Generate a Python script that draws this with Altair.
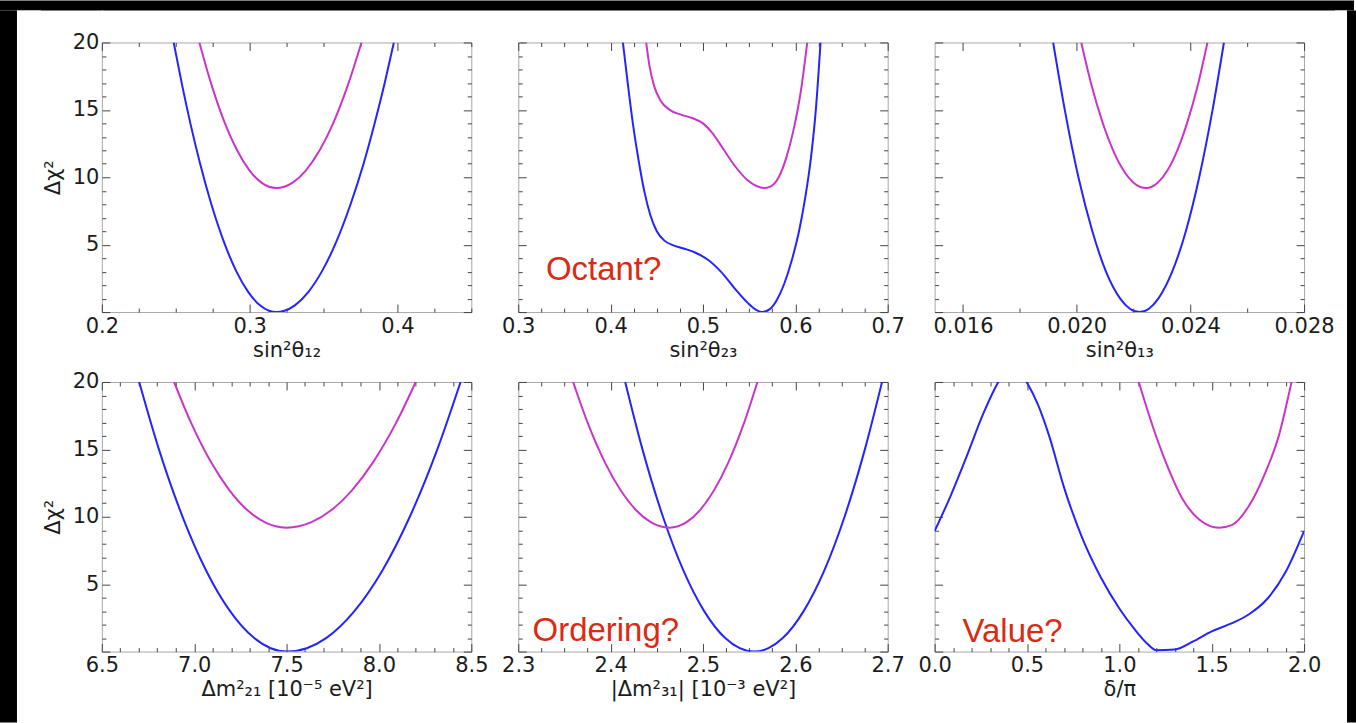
import altair as alt
import pandas as pd

BLUE = "#2424ff"
MAGENTA = "#c935c9"
NOTE_RED = "#dc2a12"
FRAME = "#a8a8a8"
TICK = "#444444"
INK = "#1c1c1c"
FONT = "DejaVu Sans"
NOTE_FONT = "Liberation Sans"

# ---- sin^2 theta_12 ----
P1_BLUE_X = [0.2486, 0.2540, 0.2599, 0.2665, 0.2741, 0.2833, 0.2911, 0.2990, 0.3070, 0.3131, 0.3180,
             0.3236, 0.3306, 0.3398, 0.3488, 0.3578, 0.3683, 0.3771, 0.3846, 0.3914, 0.3976]
P1_BLUE_Y = [20, 17, 14, 11, 8, 5, 3, 1.5, 0.5, 0.1, 0, 0.1, 0.5, 1.5, 3, 5, 8, 11, 14, 17, 20]
P1_MAG_X = [0.2660, 0.2738, 0.2833, 0.2915, 0.3000, 0.3080, 0.3180, 0.3291, 0.3380, 0.3474, 0.3565, 0.3670, 0.3757]
P1_MAG_Y = [20, 17, 14, 12, 10.5, 9.6, 9.2, 9.6, 10.5, 12, 14, 17, 20]

# ---- sin^2 theta_23 ----
P2_BLUE_X = [0.4133, 0.4187, 0.4241, 0.4302, 0.4367, 0.4430, 0.4500, 0.4583, 0.4680, 0.4800, 0.4920,
             0.5050, 0.5194, 0.5338, 0.5482, 0.5580, 0.5644, 0.5720, 0.5800, 0.5880, 0.5960, 0.6040,
             0.6110, 0.6170, 0.6222, 0.6273]
P2_BLUE_Y = [20, 16.9, 14.0, 11.3, 8.9, 7.2, 6.0, 5.3, 4.95, 4.7, 4.4, 3.9, 3.0, 1.8, 0.7, 0.15, 0,
             0.2, 0.9, 2.1, 3.8, 6.0, 8.6, 11.5, 15.0, 20]
P2_MAG_X = [0.4385, 0.4420, 0.4470, 0.4540, 0.4640, 0.4760, 0.4880, 0.5000, 0.5100, 0.5220, 0.5350,
            0.5480, 0.5580, 0.5662, 0.5740, 0.5820, 0.5900, 0.5980, 0.6060, 0.6129]
P2_MAG_Y = [20, 18.3, 16.8, 15.7, 15.0, 14.65, 14.4, 14.0, 13.3, 12.1, 10.8, 9.8, 9.35, 9.2, 9.35,
            10.0, 11.4, 13.5, 16.4, 20]

# ---- sin^2 theta_13 ----
P3_BLUE_X = [0.01917, 0.01958, 0.02006, 0.02055, 0.02103, 0.02153, 0.02187, 0.02221, 0.02254, 0.02287,
             0.02336, 0.02384, 0.02431, 0.02478, 0.02518]
P3_BLUE_Y = [20, 15, 10, 6, 3, 1, 0.25, 0, 0.25, 1, 3, 6, 10, 15, 20]
P3_MAG_X = [0.02016, 0.02050, 0.02092, 0.02128, 0.02165, 0.02200, 0.02244, 0.02285, 0.02319, 0.02354,
            0.02388, 0.02428, 0.02460]
P3_MAG_Y = [20, 17, 14, 12, 10.5, 9.6, 9.2, 9.6, 10.5, 12, 14, 17, 20]

# ---- Delta m^2_21 ----
P4_BLUE_X = [6.702, 6.809, 6.937, 7.065, 7.194, 7.325, 7.414, 7.504, 7.609, 7.714, 7.867, 8.018, 8.167, 8.316, 8.442]
P4_BLUE_Y = [20, 15, 10, 6, 3, 1, 0.25, 0, 0.25, 1, 3, 6, 10, 15, 20]
P4_MAG_X = [6.891, 6.982, 7.093, 7.189, 7.287, 7.381, 7.499, 7.635, 7.743, 7.856, 7.966, 8.094, 8.199]
P4_MAG_Y = [20, 17, 14, 12, 10.5, 9.6, 9.19, 9.6, 10.5, 12, 14, 17, 20]

# ---- |Delta m^2_31| ----
P5_BLUE_X = [2.4158, 2.4345, 2.4567, 2.4789, 2.5013, 2.5241, 2.5398, 2.5554, 2.5709, 2.5864, 2.6090,
             2.6313, 2.6533, 2.6753, 2.6939]
P5_BLUE_Y = [20, 15, 10, 6, 3, 1, 0.25, 0, 0.25, 1, 3, 6, 10, 15, 20]
P5_MAG_X = [2.3594, 2.3750, 2.3941, 2.4105, 2.4274, 2.4434, 2.4637, 2.4823, 2.4969, 2.5123, 2.5273, 2.5447, 2.5590]
P5_MAG_Y = [20, 17, 14, 12, 10.5, 9.6, 9.19, 9.6, 10.5, 12, 14, 17, 20]

# ---- delta / pi ----
P6_BLUE_X = [0.0, 0.085, 0.174, 0.265, 0.345, 0.42, 0.498, 0.56, 0.62, 0.70, 0.80, 0.90, 1.0, 1.08,
             1.15, 1.2, 1.3, 1.4, 1.5, 1.6, 1.7, 1.8, 1.9, 2.0]
P6_BLUE_Y = [8.94, 11.5, 14.5, 17.7, 20.0, 21.4, 20.0, 18.3, 16.0, 12.2, 8.4, 5.5, 3.2, 1.7, 0.6, 0.1,
             0.15, 0.75, 1.5, 2.05, 2.75, 3.9, 5.9, 8.94]
P6_MAG_X = [1.105, 1.181, 1.253, 1.343, 1.432, 1.54, 1.611, 1.701, 1.791, 1.863, 1.932]
P6_MAG_Y = [20, 16.7, 14, 11.3, 9.8, 9.19, 9.4, 10.8, 13.3, 16, 20]

Y_MAJOR = [0, 5, 10, 15, 20]
Y_MINOR = [1, 2, 3, 4, 6, 7, 8, 9, 11, 12, 13, 14, 16, 17, 18, 19]

PANEL_W, PANEL_H = 370, 270
MAJOR_LEN, MINOR_LEN = 8, 4


def axis(orient, values, size, labels=False, fmt=None, title=None, label_expr=None):
    """Axis whose ticks point into the plot (negative offset, outward ticks)."""
    kw = dict(orient=orient, values=values, tickSize=size, offset=-size, domain=False, grid=False,
              ticks=True, tickColor=TICK, tickWidth=1, labels=labels, title=title)
    if labels:
        kw.update(labelFont=FONT, labelFontSize=21, labelColor=INK, labelPadding=3,
                  labelFlush=False, labelOverlap=False)
        if fmt:
            kw["format"] = fmt
        if label_expr:
            kw["labelExpr"] = label_expr
    if title:
        kw.update(titleFont=FONT, titleFontSize=21, titleFontWeight="normal", titleColor=INK,
                  titlePadding=9 if orient == "left" else 3)
    return alt.Axis(**kw)


def panel(bx, by, mx, my, xdom, xmaj, xmin, fmt, xtitle, show_y, note=None):
    df = pd.DataFrame({
        "x": bx + mx,
        "y": by + my,
        "curve": ["blue"] * len(bx) + ["magenta"] * len(mx),
    })
    sx = alt.Scale(domain=xdom, nice=False, zero=False)
    sy = alt.Scale(domain=[0, 20], nice=False, zero=False)

    lines = alt.Chart(df).mark_line(clip=True, strokeWidth=2, interpolate="monotone").encode(
        x=alt.X("x:Q", scale=sx, axis=axis("bottom", xmaj, MAJOR_LEN, labels=True, fmt=fmt, title=xtitle)),
        y=alt.Y("y:Q", scale=sy, axis=axis("left", Y_MAJOR, MAJOR_LEN, labels=show_y,
                                           title="Δχ²" if show_y else None,
                                           label_expr="datum.value == 0 ? '' : datum.label")),
        color=alt.Color("curve:N", scale=alt.Scale(domain=["blue", "magenta"], range=[BLUE, MAGENTA]),
                        legend=None),
    )

    corner = pd.DataFrame({"x": [xdom[0]], "y": [0]})

    def ghost(ax_x, ax_y):
        return alt.Chart(corner).mark_point(opacity=0, size=0).encode(
            x=alt.X("x:Q", scale=sx, axis=ax_x),
            y=alt.Y("y:Q", scale=sy, axis=ax_y),
        )

    layers = [
        lines,
        ghost(axis("bottom", xmin, MINOR_LEN), axis("left", Y_MINOR, MINOR_LEN)),
        ghost(axis("top", xmaj, MAJOR_LEN), axis("right", Y_MAJOR, MAJOR_LEN)),
        ghost(axis("top", xmin, MINOR_LEN), axis("right", Y_MINOR, MINOR_LEN)),
    ]
    if note:
        nx, ny, txt = note
        ndf = pd.DataFrame({"x": [nx], "y": [ny], "label": [txt]})
        layers.append(
            alt.Chart(ndf).mark_text(align="left", baseline="alphabetic", font=NOTE_FONT, fontSize=33,
                                     color=NOTE_RED).encode(
                x=alt.X("x:Q", scale=sx, axis=None),
                y=alt.Y("y:Q", scale=sy, axis=None),
                text="label:N",
            )
        )
    return alt.layer(*layers).resolve_axis(x="independent", y="independent").properties(
        width=PANEL_W, height=PANEL_H)


def block(w, h, fill):
    return alt.Chart(pd.DataFrame({"v": [0.5]})).mark_point(opacity=0, size=0).encode(
        x=alt.X("v:Q", axis=None, scale=alt.Scale(domain=[0, 1])),
        y=alt.Y("v:Q", axis=None, scale=alt.Scale(domain=[0, 1])),
    ).properties(width=w, height=h, view=alt.ViewBackground(fill=fill, stroke=fill, strokeWidth=0))


def steps(a, b, step, skip):
    out = []
    v = a
    while v <= b + 1e-9:
        r = round(v, 6)
        if all(abs(r - s) > 1e-9 for s in skip):
            out.append(r)
        v += step
    return out


p1 = panel(P1_BLUE_X, P1_BLUE_Y, P1_MAG_X, P1_MAG_Y, [0.2, 0.45], [0.2, 0.3, 0.4],
           steps(0.2, 0.45, 0.025, [0.2, 0.3, 0.4]), ".1f", "sin²θ₁₂", True)
p2 = panel(P2_BLUE_X, P2_BLUE_Y, P2_MAG_X, P2_MAG_Y, [0.3, 0.7], [0.3, 0.4, 0.5, 0.6, 0.7],
           steps(0.3, 0.7, 0.025, [0.3, 0.4, 0.5, 0.6, 0.7]), ".1f", "sin²θ₂₃", False,
           note=(0.33, 2.35, "Octant?"))
p3 = panel(P3_BLUE_X, P3_BLUE_Y, P3_MAG_X, P3_MAG_Y, [0.015, 0.028], [0.016, 0.020, 0.024, 0.028],
           [0.018, 0.022, 0.026], ".3f", "sin²θ₁₃", False)
p4 = panel(P4_BLUE_X, P4_BLUE_Y, P4_MAG_X, P4_MAG_Y, [6.5, 8.5], [6.5, 7.0, 7.5, 8.0, 8.5],
           steps(6.5, 8.5, 0.1, [6.5, 7.0, 7.5, 8.0, 8.5]), ".1f", "Δm²₂₁ [10⁻⁵ eV²]", True)
p5 = panel(P5_BLUE_X, P5_BLUE_Y, P5_MAG_X, P5_MAG_Y, [2.3, 2.7], [2.3, 2.4, 2.5, 2.6, 2.7],
           steps(2.3, 2.7, 0.025, [2.3, 2.4, 2.5, 2.6, 2.7]), ".1f", "|Δm²₃₁| [10⁻³ eV²]", False,
           note=(2.3155, 0.76, "Ordering?"))
p6 = panel(P6_BLUE_X, P6_BLUE_Y, P6_MAG_X, P6_MAG_Y, [0.0, 2.0], [0.0, 0.5, 1.0, 1.5, 2.0],
           steps(0.0, 2.0, 0.1, [0.0, 0.5, 1.0, 1.5, 2.0]), ".1f", "δ/π", False,
           note=(0.151, 0.69, "Value?"))

grid = alt.ConcatChart(concat=[p1, p2, p3, p4, p5, p6], columns=3,
                       spacing={"row": 70, "column": 47}, bounds="flush")

column = alt.vconcat(block(1, 20, "white"), grid, spacing=0)
middle = alt.hconcat(block(17, 713, "black"), block(24, 1, "white"), column,
                     block(12, 1, "white"), block(9, 713, "black"), spacing=0)

chart = alt.vconcat(block(1356, 10, "black"), middle, spacing=0).properties(
    padding=0, background="white"
).configure_view(stroke=FRAME, strokeWidth=1)

chart.save("out.html", embed_options={"renderer": "svg", "actions": False})
